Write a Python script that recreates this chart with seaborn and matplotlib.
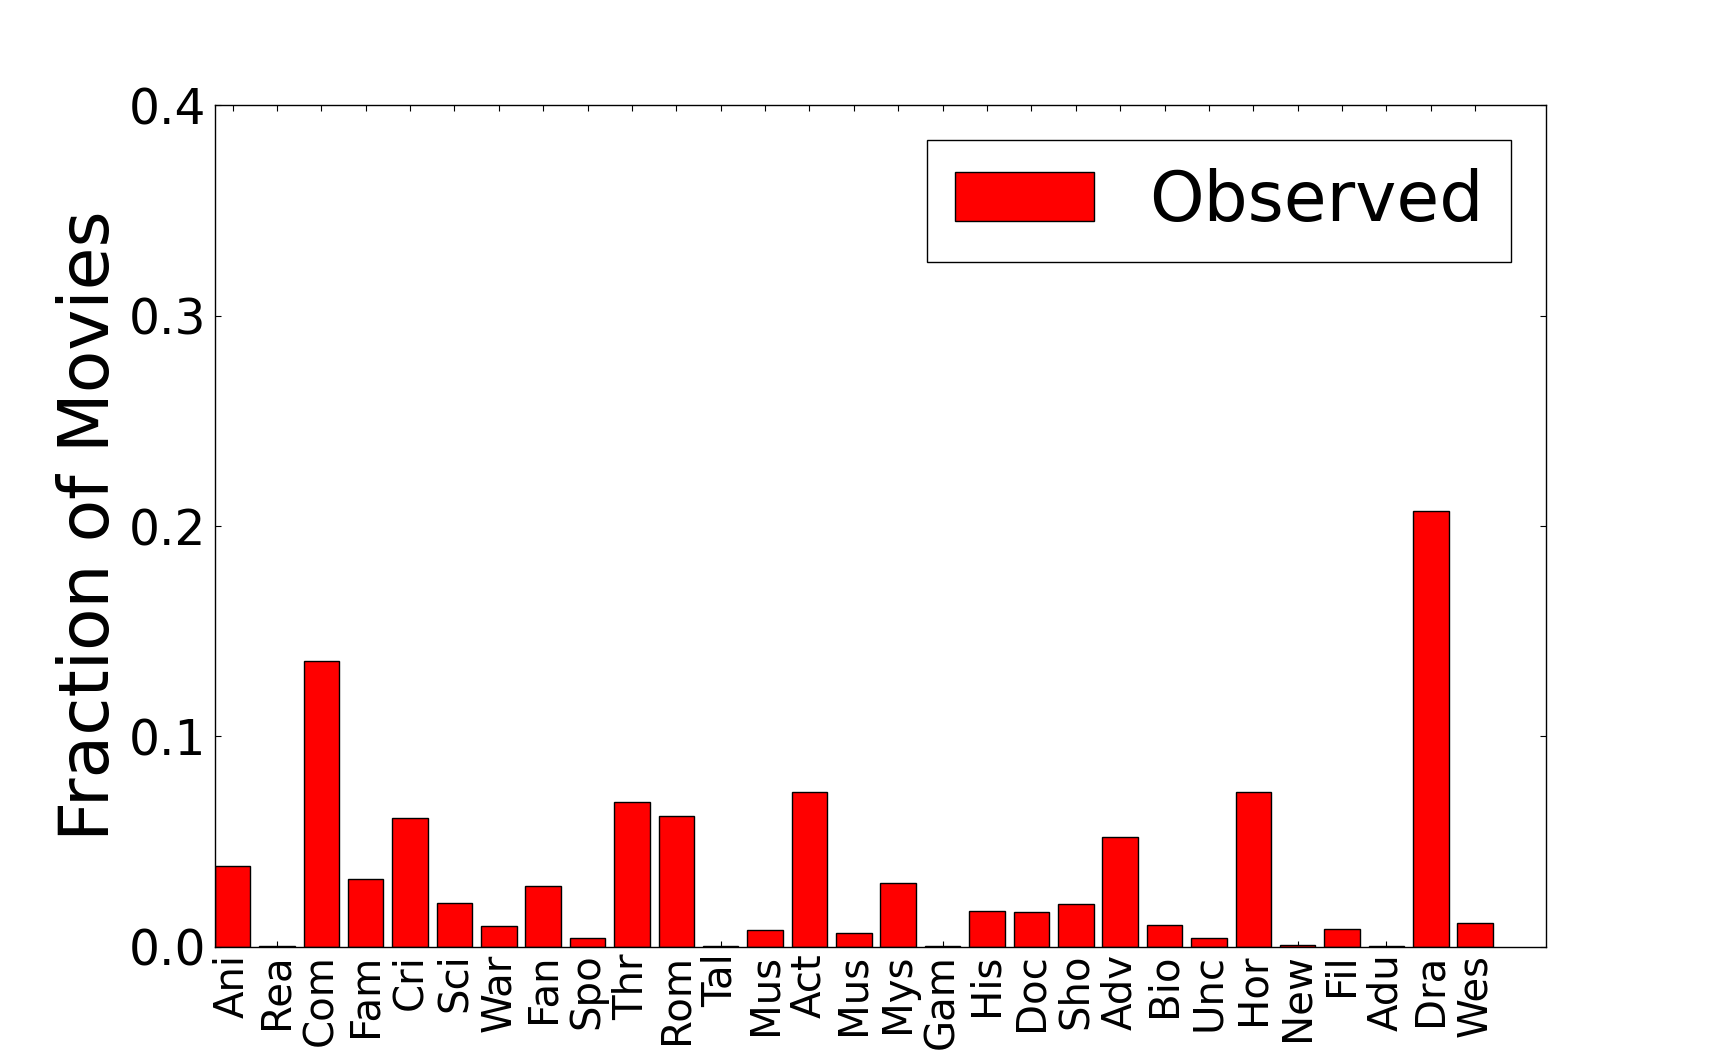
import matplotlib
matplotlib.use("Agg")
import matplotlib.pyplot as plt
import matplotlib.patches as mpatches
import seaborn as sns
import pandas as pd

# Datos
generos = ["Ani", "Rea", "Com", "Fam", "Cri", "Sci", "War", "Fan", "Spo", "Thr",
           "Rom", "Tal", "Mus", "Act", "Mus", "Mys", "Gam", "His", "Doc", "Sho",
           "Adv", "Bio", "Unc", "Hor", "New", "Fil", "Adu", "Dra", "Wes"]
fraccion = [0.0384, 0.0002, 0.1360, 0.0322, 0.0612, 0.0208, 0.0099, 0.0290, 0.0042, 0.0687,
            0.0623, 0.0002, 0.0078, 0.0736, 0.0066, 0.0303, 0.0002, 0.0171, 0.0166, 0.0203,
            0.0521, 0.0103, 0.0042, 0.0736, 0.0008, 0.0083, 0.0002, 0.2069, 0.0114]
yticks = [0.0, 0.1, 0.2, 0.3, 0.4]

df = pd.DataFrame({"pos": range(len(generos)), "fraccion": fraccion})

sns.set_style("ticks")
plt.rcParams["font.family"] = ["DejaVu Sans"]
plt.rcParams.update({
    "xtick.direction": "in",
    "ytick.direction": "in",
    "xtick.top": True,
    "ytick.right": True,
    "axes.linewidth": 1.0,
    "axes.edgecolor": "black",
    "axes.labelcolor": "black",
    "text.color": "black",
})

fig = plt.figure(figsize=(17.18, 10.52), dpi=100)
ax = fig.add_axes([0.125, 0.1, 0.775, 0.8])

sns.barplot(data=df, x="pos", y="fraccion", color="red", saturation=1,
            edgecolor="black", linewidth=1.0, width=0.8, ax=ax)

ax.set_xlim(-0.4, 29.6)
ax.set_ylim(0, 0.4)
ax.set_yticks(yticks)
ax.set_yticklabels([f"{v:.1f}" for v in yticks])
ax.set_xticks(range(len(generos)))
ax.set_xticklabels(generos, rotation=90)
ax.tick_params(axis="y", labelsize=35, length=4, width=0.8, pad=6, colors="black")
ax.tick_params(axis="x", labelsize=29, length=4, width=0.8, pad=5, colors="black")
ax.set_xlabel("")
ax.set_ylabel("Fraction of Movies", fontsize=50, labelpad=4)

# Leyenda
handle = mpatches.Patch(facecolor="red", edgecolor="black", linewidth=1.0, label="Observed")
ax.legend(handles=[handle], loc="upper right", fontsize=50, frameon=True,
          fancybox=False, edgecolor="black", framealpha=1, labelcolor="black",
          handlelength=2.0, handleheight=0.7, handletextpad=0.8,
          borderpad=0.4, borderaxespad=0.5)
ax.get_legend().get_frame().set_linewidth(1.0)

fig.savefig("out.png", dpi=100)
